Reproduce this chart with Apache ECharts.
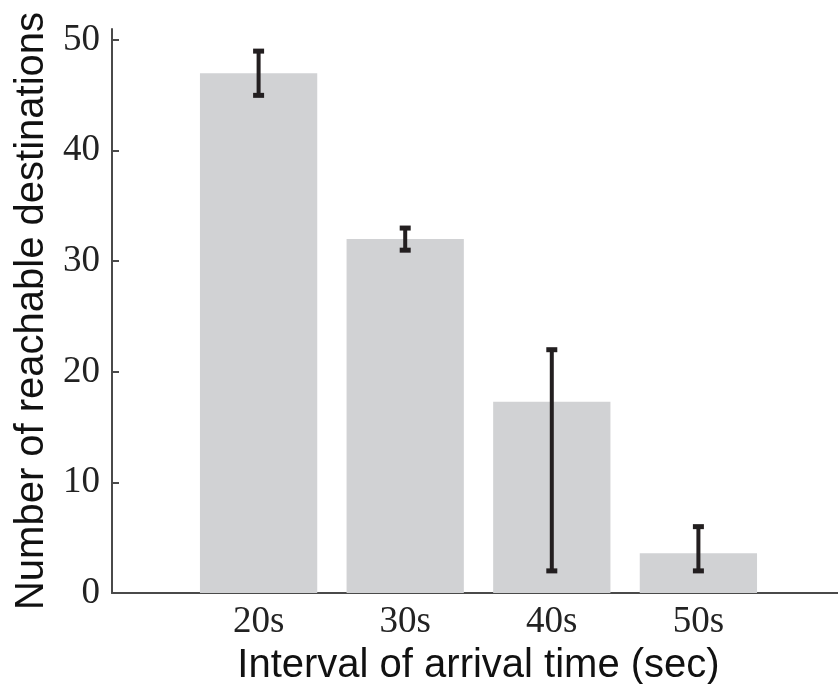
<!DOCTYPE html>
<html>
<head>
<meta charset="utf-8">
<script src="https://cdn.jsdelivr.net/npm/echarts@6/dist/echarts.min.js"></script>
<style>
  html, body { margin: 0; padding: 0; background: #fff; }
  #chart { width: 838px; height: 684px; }
</style>
</head>
<body>
<div id="chart"></div>
<script>
// Arrival-interval groups; blank slots pad the axis on both sides.
const categories = ['', '20s', '30s', '40s', '50s', ''];
// Mean number of reachable destinations per group.
const meanValues = [null, 47, 32, 17.3, 3.6, null];
// Error bar extents per group.
const errLow = [null, 45, 31, 2, 2, null];
const errHigh = [null, 49, 33, 22, 6, null];
// Y-axis tick values.
const yTicks = [0, 10, 20, 30, 40, 50];

const errData = [];
for (let i = 0; i < categories.length; i++) {
  if (errLow[i] != null) errData.push([i, errLow[i], errHigh[i]]);
}

const axisColor = '#4a4a4a';
const serif = '"Liberation Serif", "DejaVu Serif", serif';
const sans = '"Liberation Sans", Arial, sans-serif';

const chart = echarts.init(document.getElementById('chart'), null, { renderer: 'canvas' });
chart.setOption({
  animation: false,
  grid: { left: 112, top: 29, width: 733, height: 564, containLabel: false, outerBoundsMode: 'none' },
  xAxis: {
    type: 'category',
    data: categories,
    boundaryGap: false,
    axisLine: { show: true, lineStyle: { color: axisColor, width: 2 } },
    axisTick: { show: false },
    axisLabel: { interval: 0, margin: 11, fontFamily: serif, fontSize: 37, color: '#222' },
    splitLine: { show: false },
    name: 'Interval of arrival time (sec)',
    nameLocation: 'middle',
    nameGap: 46,
    nameTextStyle: { fontFamily: sans, fontSize: 40, color: '#111' }
  },
  yAxis: {
    type: 'value',
    min: 0,
    max: 51,
    interval: 10,
    axisLine: { show: true, lineStyle: { color: axisColor, width: 2 } },
    axisTick: { show: true, inside: true, length: 7, customValues: yTicks, lineStyle: { color: axisColor, width: 2 } },
    axisLabel: { margin: 12, customValues: yTicks, fontFamily: serif, fontSize: 37, color: '#222' },
    splitLine: { show: false },
    name: 'Number of reachable destinations',
    nameLocation: 'middle',
    nameGap: 60,
    nameTextStyle: { fontFamily: sans, fontSize: 40, color: '#111' }
  },
  series: [
    {
      type: 'bar',
      data: meanValues,
      barWidth: '80%',
      itemStyle: { color: '#d1d2d4' },
      z: 1
    },
    {
      type: 'custom',
      data: errData,
      encode: { x: 0, y: [1, 2] },
      z: 5,
      renderItem: function (params, api) {
        const x = api.value(0);
        const lo = api.coord([x, api.value(1)]);
        const hi = api.coord([x, api.value(2)]);
        const capW = 11, capH = 5;
        const style = { fill: '#231f20' };
        return {
          type: 'group',
          children: [
            { type: 'rect', shape: { x: lo[0] - 2, y: hi[1], width: 4, height: lo[1] - hi[1] }, style: style },
            { type: 'rect', shape: { x: hi[0] - capW / 2, y: hi[1] - capH / 2, width: capW, height: capH }, style: style },
            { type: 'rect', shape: { x: lo[0] - capW / 2, y: lo[1] - capH / 2, width: capW, height: capH }, style: style }
          ]
        };
      }
    }
  ]
});
</script>
</body>
</html>
